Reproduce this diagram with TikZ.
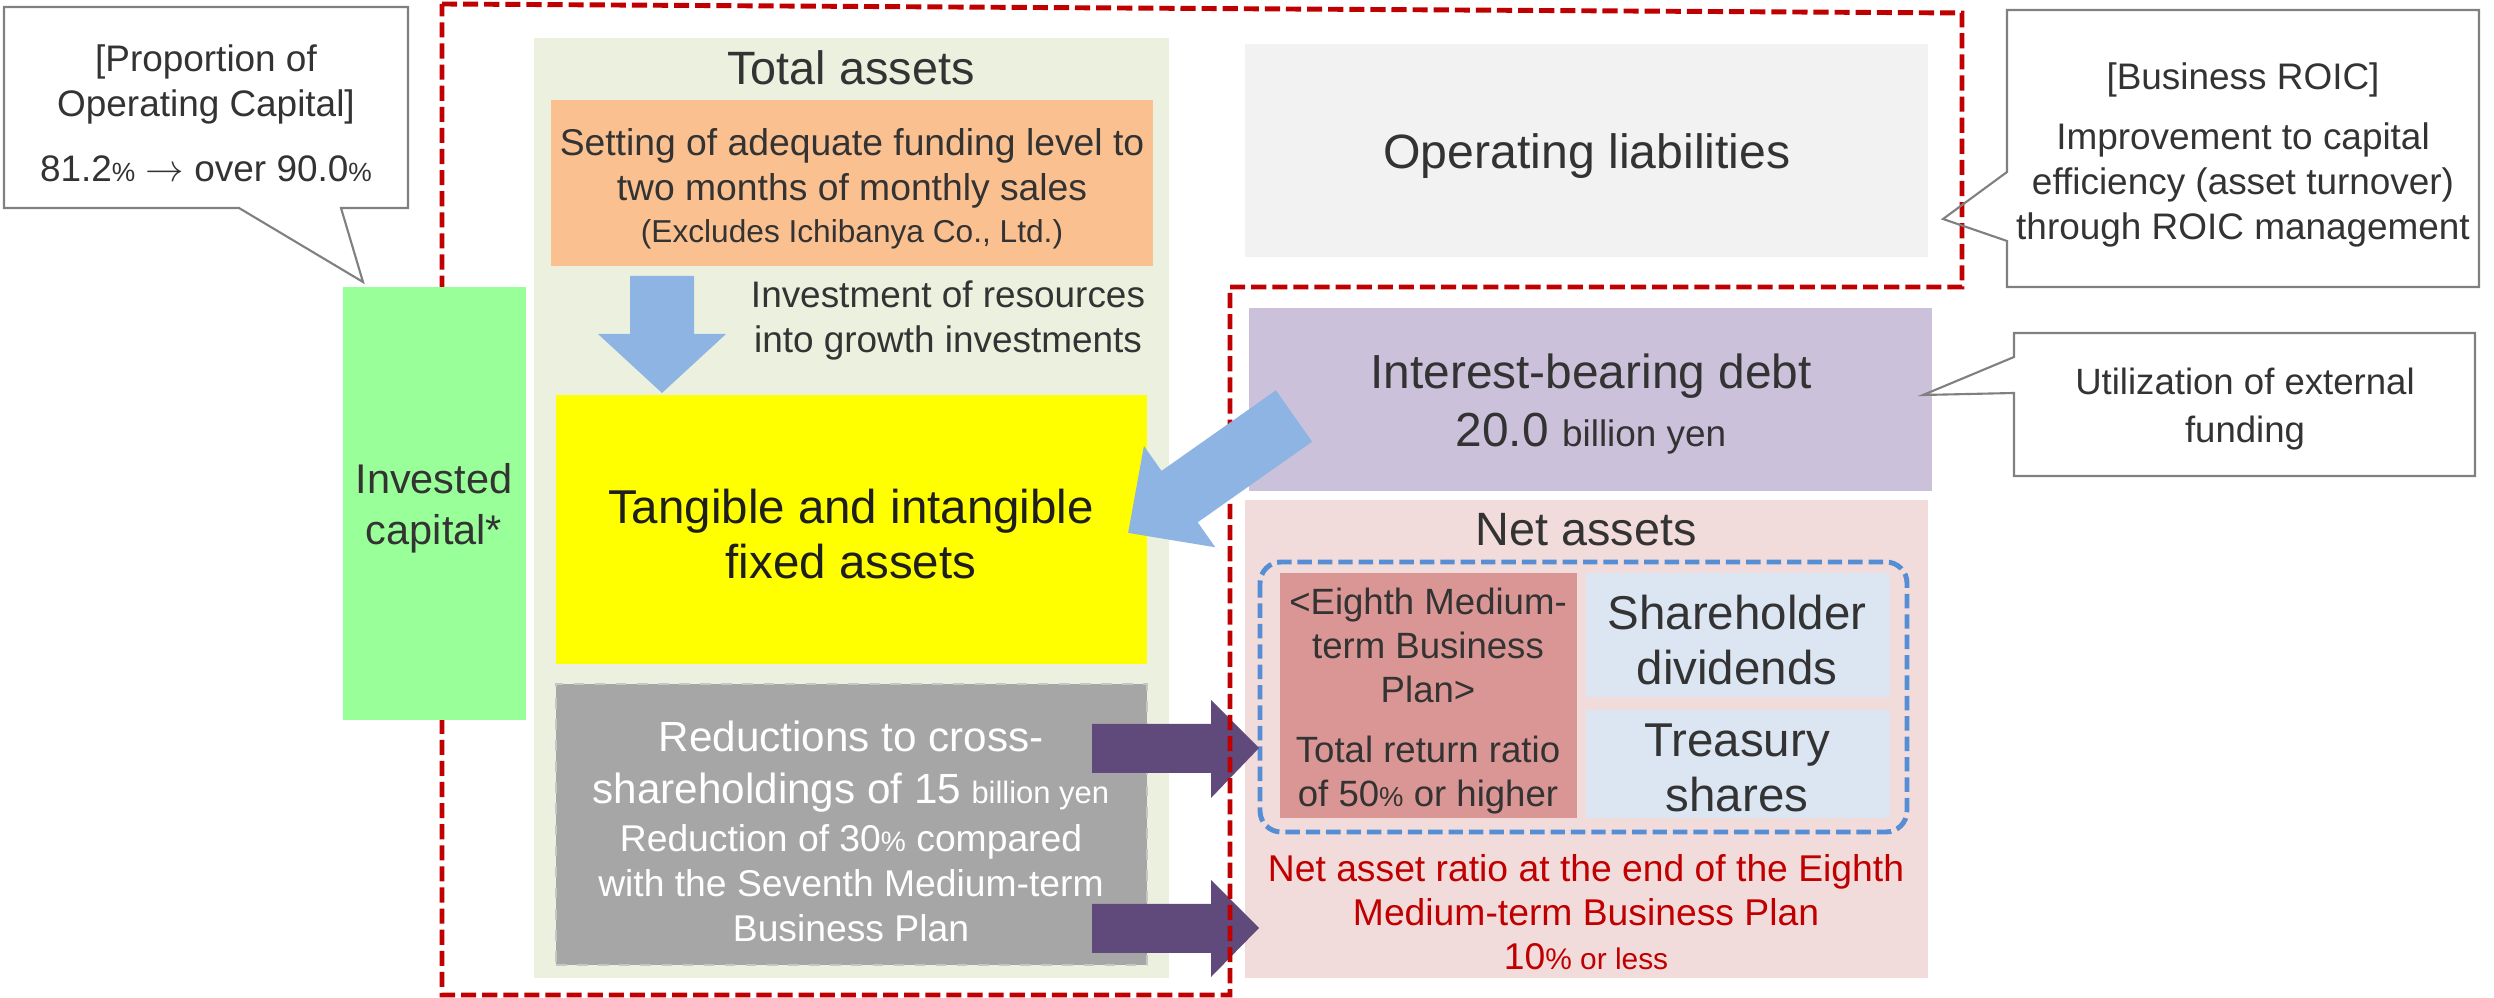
\documentclass[tikz,border=0pt]{standalone}
\usepackage{fontspec}
\setmainfont{Liberation Sans}
\usetikzlibrary{fit}
\definecolor{txt}{HTML}{333333}
\definecolor{txtdark}{HTML}{1E1E1E}
\definecolor{tabg}{HTML}{EBF1DE}
\definecolor{orangebox}{HTML}{FAC090}
\definecolor{yellowbox}{HTML}{FFFF00}
\definecolor{greenbox}{HTML}{99FF99}
\definecolor{graybox}{HTML}{A6A6A6}
\definecolor{oplbox}{HTML}{F2F2F2}
\definecolor{debtbox}{HTML}{CCC1DA}
\definecolor{nabox}{HTML}{F2DCDB}
\definecolor{pinkbox}{HTML}{DA9694}
\definecolor{lbluebox}{HTML}{DCE6F2}
\definecolor{bluedash}{HTML}{558ED5}
\definecolor{darkred}{HTML}{C00000}
\definecolor{bluearrow}{HTML}{8DB4E2}
\definecolor{purplearrow}{HTML}{604A7B}
\definecolor{calloutgray}{HTML}{808080}
\newcommand\fs[2]{\fontsize{#1}{#2}\selectfont}
\tikzset{
  box/.style={inner sep=0pt, outer sep=0pt, draw=none},
  lbl/.style={align=center, text=txt, inner sep=0pt},
  callout/.style={draw=calloutgray, line width=0.6pt, line join=miter},
  reddash/.style={draw=darkred, line width=1.4pt, dash pattern=on 4.3pt off 1.7pt},
  bluedashed/.style={draw=bluedash, line width=1.4pt, dash pattern=on 4.1pt off 1.7pt, rounded corners=6pt},
}
\begin{document}
\begin{tikzpicture}[x=0.01cm,y=-0.01cm]
\useasboundingbox (0,0) rectangle (2494,998);
\fill[white] (0,0) rectangle (2494,998);

% ---------- boxes ----------
\node[box, fill=tabg, fit={(534,38) (1169,978)}] (tabgnode) {};
\node[box, fill=orangebox, fit={(551,100) (1153,266)}] (orange) {};
\node[box, fill=yellowbox, fit={(556,395) (1147,664)}] (yellow) {};
\node[box, fill=graybox, draw=gray!45, line width=0.4pt, dashed, fit={(556,684) (1147,965)}] (gray) {};
\node[box, fill=oplbox, fit={(1245,44) (1928,257)}] (opl) {};
\node[box, fill=debtbox, fit={(1249,308) (1932,491)}] (debt) {};
\node[box, fill=nabox, fit={(1245,500) (1928,978)}] (na) {};
\node[box, fill=pinkbox, fit={(1280,573) (1577,818)}] (pink) {};
\node[box, fill=lbluebox, fit={(1586,573) (1890,697)}] (div) {};
\node[box, fill=lbluebox, fit={(1586,710) (1890,818)}] (treas) {};
\draw[bluedashed] (1260,562) rectangle (1907,832);

% ---------- purple arrows ----------
\fill[purplearrow] (1092,724) -- (1211,724) -- (1211,700) -- (1259,748) -- (1211,798) -- (1211,773) -- (1092,773) -- cycle;
\fill[purplearrow] (1092,904) -- (1211,904) -- (1211,880) -- (1259,928) -- (1211,977) -- (1211,953) -- (1092,953) -- cycle;

% ---------- red dashed frame ----------
\draw[reddash] (442,4) -- (1962,13) -- (1962,287) -- (1230,287) -- (1230,995) -- (442,995) -- cycle;

% ---------- green box ----------
\node[box, fill=greenbox, fit={(343,287) (526,720)}] (green) {};

% ---------- blue arrows ----------
\fill[bluearrow] (630,276) -- (694,276) -- (694,334) -- (726,334) -- (662,393) -- (598,334) -- (630,334) -- cycle;
\fill[bluearrow] (1275.9,390.3) -- (1161.5,470.9) -- (1143.9,445.9) -- (1128.1,532.9) -- (1215.3,547.3) -- (1197.7,522.3) -- (1312.1,441.7) -- cycle;

% ---------- callouts ----------
\draw[callout] (4,7) -- (408,7) -- (408,208) -- (341,208) -- (363,282) -- (239,208) -- (4,208) -- cycle;
\draw[callout] (2007,10) -- (2479,10) -- (2479,287) -- (2007,287) -- (2007,241) -- (1943,219) -- (2007,172) -- cycle;
\draw[callout] (2014,333) -- (2475,333) -- (2475,476) -- (2014,476) -- (2014,393) -- (1923,395) -- (2014,357) -- cycle;

% ---------- texts ----------
\node[lbl, font=\fs{10.5}{12.8}] (poc) at (206,113)
  {[Proportion of\\ Operating Capital]\\[5.7pt] 81.2{\fs{7.5}{9}\%} $\rightarrow$ over 90.0{\fs{7.5}{9}\%}};
\node[lbl, font=\fs{13.3}{16}] (tatitle) at (851,68) {Total assets};
\node[lbl, font=\fs{10.6}{12.8}] (orangetxt) at (852,189)
  {Setting of adequate funding level to\\ two months of monthly sales\\[-0.8pt] {\fs{9}{11}(Excludes Ichibanya Co., Ltd.)}};
\node[lbl, font=\fs{10.5}{12.8}] (invtxt) at (948,320)
  {Investment of resources\\ into growth investments};
\node[lbl, text=txtdark, font=\fs{13.5}{15.6}] (yellowtxt) at (851,534)
  {Tangible and intangible\\ fixed assets};
\node[lbl, text=white, font=\fs{10.6}{12.8}] (graytxt) at (851,831)
  {{\fs{12}{15}Reductions to cross-}\\[2.2pt]
   {\fs{12}{15}shareholdings of 15} {\fs{8.8}{10}billion yen}\\[0.6pt]
   Reduction of 30{\fs{8}{9}\%} compared\\
   with the Seventh Medium-term\\
   Business Plan};
\node[lbl, font=\fs{11.8}{14.5}] (greentxt) at (434,508) {Invested\\ capital*};
\node[lbl, font=\fs{13.7}{16}] (opltxt) at (1587,156) {Operating liabilities};
\node[lbl, font=\fs{13.6}{16.5}] (debttxt) at (1591,404)
  {Interest-bearing debt\\ 20.0 {\fs{10.5}{12}billion yen}};
\node[lbl, font=\fs{13.3}{16}] (natitle) at (1586,530) {Net assets};
\node[lbl, font=\fs{10.4}{12.5}] (pinktxt) at (1428,701)
  {<Eighth Medium-\\ term Business\\ Plan>\\[4.5pt] Total return ratio\\ of 50{\fs{7.8}{9}\%} or higher};
\node[lbl, font=\fs{13.5}{15.7}] (divtxt) at (1737,640) {Shareholder\\ dividends};
\node[lbl, font=\fs{13.5}{15.7}] (treastxt) at (1737,768) {Treasury\\ shares};
\node[lbl, text=darkred, font=\fs{10.6}{12.5}] (redtxt) at (1586,912)
  {Net asset ratio at the end of the Eighth\\ Medium-term Business Plan\\ 10{\fs{8.5}{10}\% or less}};
\node[lbl, font=\fs{10.5}{12.8}] (roictxt) at (2243,155)
  {[Business ROIC]\\[4.3pt] Improvement to capital\\ efficiency (asset turnover)\\ through ROIC management};
\node[lbl, font=\fs{10.4}{13.4}] (utiltxt) at (2245,409)
  {Utilization of external\\ funding};
\end{tikzpicture}
\end{document}
